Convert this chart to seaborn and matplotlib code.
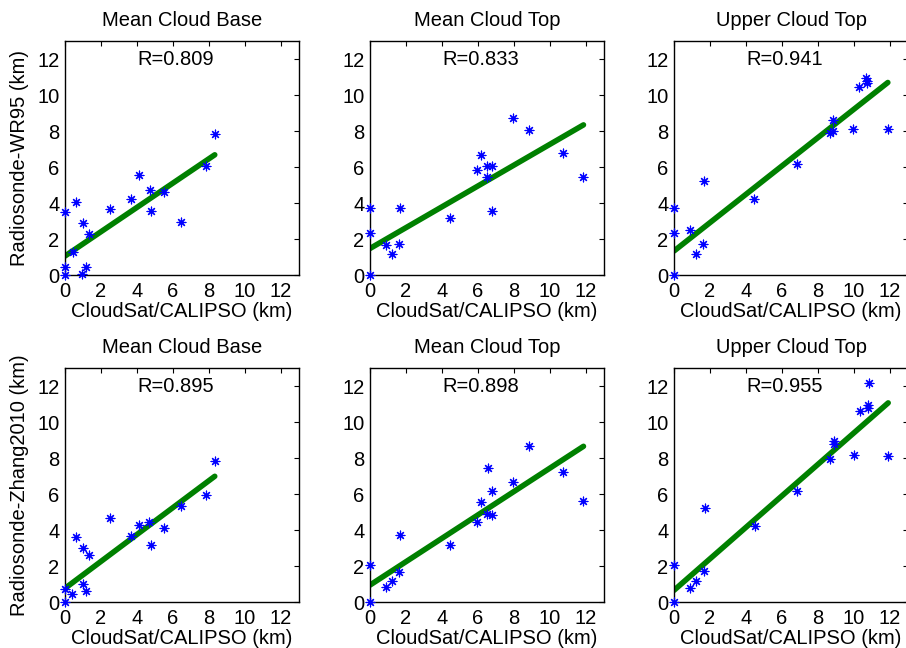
import numpy as np
import pandas as pd
import matplotlib
matplotlib.use("Agg")
import matplotlib.pyplot as plt
import seaborn as sns

# ---- data (km) ----
titles = ["Mean Cloud Base", "Mean Cloud Top", "Upper Cloud Top"]
row_labels = ["Radiosonde-WR95 (km)", "Radiosonde-Zhang2010 (km)"]
xlabel = "CloudSat/CALIPSO (km)"
r_values = [0.809, 0.833, 0.941, 0.895, 0.898, 0.955]
ticks = [0, 2, 4, 6, 8, 10, 12]

# fitted regression lines as drawn in the reference: y = intercept + slope * x
fit_intercept = [1.07, 1.49, 1.35, 0.76, 0.94, 0.65]
fit_slope = [0.676, 0.579, 0.788, 0.748, 0.650, 0.875]

base_wr95_x = [0, 0, 0, 0.44, 0.63, 0.96, 1.0, 1.18, 1.33, 2.49, 3.65, 4.13, 4.72, 4.79, 5.52, 6.45, 7.86, 8.32]
base_wr95_y = [0, 0.48, 3.54, 1.29, 4.06, 0.09, 2.88, 0.46, 2.29, 3.69, 4.24, 5.59, 4.76, 3.60, 4.65, 2.97, 6.09, 7.86]

top_wr95_x = [0, 0, 0, 0.89, 1.2, 1.59, 1.66, 4.45, 5.96, 6.16, 6.48, 6.51, 6.77, 6.79, 7.95, 8.86, 10.72, 11.86]
top_wr95_y = [0, 2.36, 3.73, 1.68, 1.16, 1.75, 3.73, 3.17, 5.83, 6.70, 6.05, 5.44, 6.09, 3.58, 8.76, 8.06, 6.81, 5.46]

upper_wr95_x = [0, 0, 0, 0.87, 1.2, 1.61, 1.64, 4.45, 6.81, 8.69, 8.84, 8.82, 9.94, 10.28, 10.68, 10.74, 10.72, 11.88]
upper_wr95_y = [0, 2.36, 3.73, 2.51, 1.16, 1.75, 5.24, 4.24, 6.20, 7.88, 8.04, 8.62, 8.15, 10.44, 10.98, 10.81, 10.70, 8.12]

base_zhang_x = [0, 0, 0.41, 0.63, 1.0, 1.0, 1.18, 1.33, 2.49, 3.65, 4.13, 4.69, 4.79, 5.52, 6.45, 7.86, 8.32]
base_zhang_y = [0, 0.70, 0.46, 3.63, 3.0, 1.01, 0.61, 2.62, 4.67, 3.65, 4.26, 4.46, 3.17, 4.10, 5.33, 5.94, 7.86]

top_zhang_x = [0, 0, 0.89, 1.2, 1.59, 1.66, 4.45, 5.96, 6.16, 6.51, 6.55, 6.77, 6.79, 7.95, 8.86, 10.72, 11.86]
top_zhang_y = [0, 2.08, 0.81, 1.18, 1.68, 3.75, 3.19, 4.45, 5.55, 4.91, 7.44, 6.14, 4.85, 6.66, 8.69, 7.21, 5.59]

upper_zhang_x = [0, 0, 0.9, 1.24, 1.64, 1.70, 4.50, 6.85, 8.69, 8.87, 8.89, 9.98, 10.33, 10.76, 10.76, 10.81, 11.9]
upper_zhang_y = [0, 2.08, 0.79, 1.18, 1.73, 5.24, 4.23, 6.14, 7.92, 8.78, 8.97, 8.15, 10.61, 10.94, 10.77, 12.14, 8.12]

panels = [
    (base_wr95_x, base_wr95_y), (top_wr95_x, top_wr95_y), (upper_wr95_x, upper_wr95_y),
    (base_zhang_x, base_zhang_y), (top_zhang_x, top_zhang_y), (upper_zhang_x, upper_zhang_y),
]

# ---- style ----
sns.set_style("white")
plt.rcParams["font.family"] = ["Liberation Sans", "DejaVu Sans"]
plt.rcParams["text.color"] = "black"
plt.rcParams["axes.labelcolor"] = "black"
plt.rcParams["xtick.color"] = "black"
plt.rcParams["ytick.color"] = "black"
FS = 14.5

W, H = 906, 648
fig = plt.figure(figsize=(W / 100, H / 100), dpi=100)

col_left = [65, 370, 674]
row_bottom = [H - 275.3, H - 602]
aw, ah = 234, 234

for i, (xs, ys) in enumerate(panels):
    r, c = divmod(i, 3)
    ax = fig.add_axes([col_left[c] / W, row_bottom[r] / H, aw / W, ah / H])
    df = pd.DataFrame({"x": xs, "y": ys})
    xfit = np.array([min(xs), max(xs)])
    fit_df = pd.DataFrame({"x": xfit, "y": fit_intercept[i] + fit_slope[i] * xfit})
    sns.lineplot(data=fit_df, x="x", y="y", ax=ax, color=(0, 0.5, 0), lw=4.0,
                 solid_capstyle="round", zorder=2)
    sns.scatterplot(data=df, x="x", y="y", ax=ax, marker=(8, 2, 0), s=40,
                    color=(0, 0, 1), edgecolor=(0, 0, 1), linewidth=0.85, clip_on=False, zorder=3)
    ax.set_xlim(0, 13)
    ax.set_ylim(0, 13)
    ax.set_xticks(ticks)
    ax.set_yticks(ticks)
    ax.tick_params(direction="in", length=3.5, width=0.8, top=True, right=True,
                   labelsize=FS, colors="black", pad=4)
    ax.tick_params(axis="x", pad=5)
    for sp in ax.spines.values():
        sp.set_visible(True)
        sp.set_color("black")
        sp.set_linewidth(1.0)
    ax.set_title(titles[c], fontsize=FS, y=1 + 20.6 / ah, pad=0, va="center", color="black")
    ax.set_xlabel(xlabel, fontsize=FS, color="black")
    ax.xaxis.set_label_coords(0.5, -0.156)
    ax.xaxis.label.set_va("center")
    if c == 0:
        ax.set_ylabel(row_labels[r], fontsize=FS, color="black")
        ax.yaxis.set_label_coords(-45 / aw, 0.5)
        ax.yaxis.label.set_va("center")
    else:
        ax.set_ylabel("")
    ax.text(4, 12, f"R={r_values[i]:.3f}", fontsize=FS, ha="left", va="center", color="black")

fig.savefig("out.png", dpi=100, facecolor="white")
